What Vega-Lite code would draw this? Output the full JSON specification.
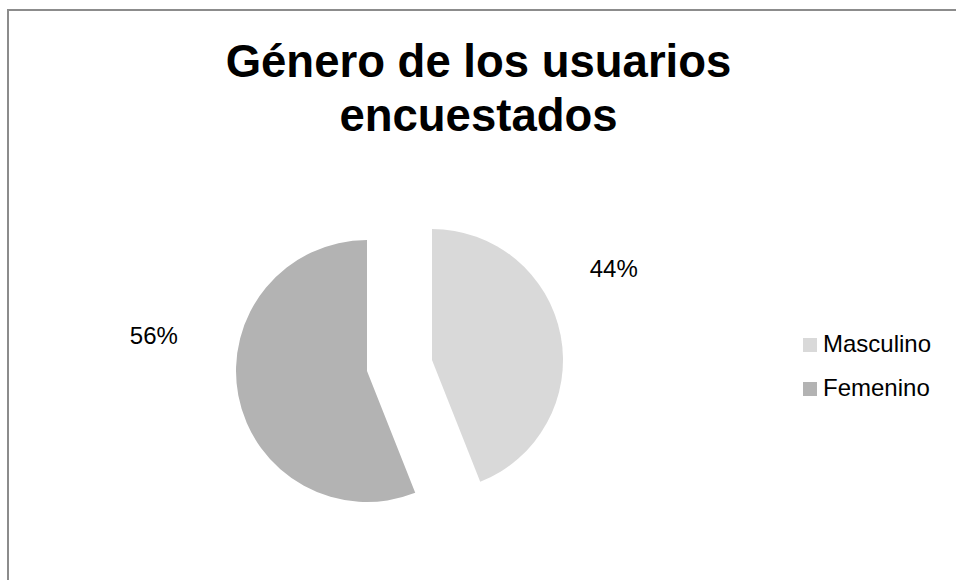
{
  "$schema": "https://vega.github.io/schema/vega-lite/v6.json",
  "autosize": {"type": "none"},
  "width": 949,
  "height": 571,
  "padding": {"left": 8, "top": 10, "right": 0, "bottom": 0},
  "background": "white",
  "view": {"stroke": "#8c8c8c", "strokeWidth": 2},
  "config": {
    "view": {"stroke": "#8c8c8c", "strokeWidth": 2},
    "font": "Liberation Sans"
  },
  "title": {
    "text": ["Género de los usuarios", "encuestados"],
    "font": "Liberation Sans",
    "fontSize": 45.5,
    "fontWeight": "bold",
    "color": "#000000",
    "lineHeight": 54,
    "anchor": "middle",
    "baseline": "top",
    "offset": -130,
    "dx": -4
  },
  "data": {
    "values": [
      {"genero": "Masculino", "pct": 0.44, "orden": 1},
      {"genero": "Femenino", "pct": 0.56, "orden": 2}
    ]
  },
  "layer": [
    {
      "transform": [
        {"stack": "pct", "groupby": [], "sort": [{"field": "orden"}], "as": ["t0", "t1"]},
        {"filter": "datum.genero === 'Masculino'"}
      ],
      "mark": {"type": "arc", "radius": 131, "x": 424, "y": 350},
      "encoding": {
        "theta": {"field": "t0", "type": "quantitative", "scale": {"domain": [0, 1]}},
        "theta2": {"field": "t1"},
        "color": {
          "field": "genero", "type": "nominal",
          "scale": {"domain": ["Masculino", "Femenino"], "range": ["#d9d9d9", "#b3b3b3"]},
          "legend": {
            "title": null, "orient": "none", "legendX": 790, "legendY": 323,
            "symbolType": "square", "symbolSize": 196, "symbolStrokeWidth": 0,
            "labelFontSize": 24, "labelFont": "Liberation Sans", "labelColor": "#000000",
            "labelOffset": 1, "rowPadding": 20, "padding": 0
          }
        }
      }
    },
    {
      "transform": [
        {"stack": "pct", "groupby": [], "sort": [{"field": "orden"}], "as": ["t0", "t1"]},
        {"filter": "datum.genero === 'Femenino'"}
      ],
      "mark": {"type": "arc", "radius": 131, "x": 359, "y": 361},
      "encoding": {
        "theta": {"field": "t0", "type": "quantitative", "scale": {"domain": [0, 1]}},
        "theta2": {"field": "t1"},
        "color": {"field": "genero", "type": "nominal"}
      }
    },
    {
      "mark": {"type": "text", "radius": 185, "x": 424, "y": 350, "dy": -55, "fontSize": 24, "font": "Liberation Sans", "color": "#000000"},
      "encoding": {
        "theta": {"field": "pct", "type": "quantitative", "stack": true, "scale": {"domain": [0, 1]}},
        "order": {"field": "orden", "type": "quantitative"},
        "text": {"condition": {"test": "datum.genero === 'Masculino'", "field": "pct", "type": "quantitative", "format": ".0%"}, "value": ""}
      }
    },
    {
      "mark": {"type": "text", "radius": 217, "x": 359, "y": 361, "dy": -75, "fontSize": 24, "font": "Liberation Sans", "color": "#000000"},
      "encoding": {
        "theta": {"field": "pct", "type": "quantitative", "stack": true, "scale": {"domain": [0, 1]}},
        "order": {"field": "orden", "type": "quantitative"},
        "text": {"condition": {"test": "datum.genero === 'Femenino'", "field": "pct", "type": "quantitative", "format": ".0%"}, "value": ""}
      }
    }
  ]
}
